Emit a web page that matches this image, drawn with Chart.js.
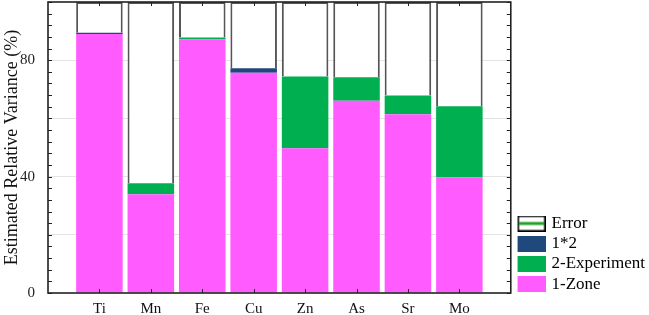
<!DOCTYPE html>
<html lang="en">
<head>
    <meta charset="UTF-8">
    <title>Estimated Relative Variance</title>
    <script src="https://cdn.jsdelivr.net/npm/chart.js"></script>
    <style>
        html, body { margin: 0; padding: 0; background: #fff; }
    </style>
</head>
<body>
    <canvas id="varianceChart" width="649" height="315"></canvas>
    <script>
        // values (percent of total variance)
        const elements = ['Ti', 'Mn', 'Fe', 'Cu', 'Zn', 'As', 'Sr', 'Mo'];
        const zone = [89.0, 33.9, 87.2, 75.7, 49.7, 66.1, 61.4, 39.8];
        const experiment = [0, 3.8, 0.6, 0, 24.7, 8.0, 6.5, 24.4];
        const interaction = [0.4, 0, 0, 1.5, 0, 0, 0, 0];
        const error = [10.6, 62.3, 12.2, 22.8, 25.6, 25.9, 32.1, 35.8];
        const yLabels = [0, 40, 80];

        // empty slot on each side, like the original axis
        const labels = ['', ...elements, ''];
        const pad = arr => [null, ...arr, null];

        const serif = 'Liberation Serif, Times New Roman, serif';

        // legend swatches
        function makeIcon(fill, border, midLine) {
            const c = document.createElement('canvas');
            c.width = 34; c.height = 16;
            const g = c.getContext('2d');
            g.fillStyle = fill;
            g.fillRect(6, 0, 28, 16);
            if (border) {
                g.strokeStyle = border; g.lineWidth = 1.5;
                g.strokeRect(6.75, 0.75, 26.5, 14.5);
            }
            if (midLine) {
                g.strokeStyle = midLine; g.lineWidth = 3;
                g.beginPath(); g.moveTo(7, 8); g.lineTo(33, 8); g.stroke();
            }
            return c;
        }
        const icons = [
            makeIcon('#FF5BFF'),
            makeIcon('#00B050'),
            makeIcon('#1F497D'),
            makeIcon('#FFFFFF', '#000000', '#1FA02A')
        ];

        // box frame with inward ticks
        const framePlugin = {
            id: 'frame',
            afterDatasetsDraw(chart) {
                const {ctx, chartArea: a, scales: {x, y}} = chart;
                ctx.save();
                ctx.strokeStyle = '#222';
                ctx.lineWidth = 1;
                ctx.beginPath();
                for (let v = 0; v <= 100; v += 4) {
                    const py = Math.round(y.getPixelForValue(v)) + 0.5;
                    ctx.moveTo(a.left, py); ctx.lineTo(a.left + 4, py);
                    ctx.moveTo(a.right, py); ctx.lineTo(a.right - 4, py);
                }
                elements.forEach((_, i) => {
                    const px = Math.round(x.getPixelForValue(i + 1)) + 0.5;
                    ctx.moveTo(px, a.bottom); ctx.lineTo(px, a.bottom - 4);
                    ctx.moveTo(px, a.top); ctx.lineTo(px, a.top + 4);
                });
                ctx.stroke();
                ctx.lineWidth = 1.6;
                ctx.strokeRect(a.left, a.top, a.right - a.left, a.bottom - a.top);
                ctx.restore();
            }
        };

        new Chart(document.getElementById('varianceChart'), {
            type: 'bar',
            data: {
                labels: labels,
                datasets: [
                    { label: '1-Zone', data: pad(zone), backgroundColor: '#FF5BFF', borderWidth: 0 },
                    { label: '2-Experiment', data: pad(experiment), backgroundColor: '#00B050', borderWidth: 0 },
                    { label: '1*2', data: pad(interaction), backgroundColor: '#1F497D', borderWidth: 0 },
                    {
                        label: 'Error', data: pad(error), backgroundColor: '#FFFFFF',
                        borderColor: '#555555', borderWidth: 2, borderSkipped: 'bottom'
                    }
                ]
            },
            options: {
                responsive: false,
                animation: false,
                datasets: { bar: { barPercentage: 0.905, categoryPercentage: 1.0 } },
                layout: { autoPadding: false, padding: { top: 2, bottom: 19, left: 0, right: -6 } },
                scales: {
                    x: {
                        stacked: true,
                        offset: false,
                        grid: { display: false },
                        border: { display: false },
                        ticks: {
                            autoSkip: false, maxRotation: 0,
                            // mirrored so the labels are not clipped to the thin axis box
                            mirror: true, padding: -25,
                            color: '#111', font: { family: serif, size: 15 }
                        },
                        afterFit: s => { s.height = 3; s.paddingLeft = 0; s.paddingRight = 0; }
                    },
                    y: {
                        stacked: true,
                        min: 0, max: 100,
                        border: { display: false },
                        grid: {
                            drawTicks: false,
                            color: c => (c.tick && c.tick.value > 0 && c.tick.value < 100) ? '#e3e3e3' : 'rgba(0,0,0,0)'
                        },
                        ticks: {
                            stepSize: 20, padding: 13,
                            color: '#222', font: { family: serif, size: 15 },
                            callback: v => yLabels.includes(v) ? v : ''
                        },
                        title: {
                            display: true,
                            text: 'Estimated Relative Variance (%)',
                            color: '#111',
                            font: { family: serif, size: 18 },
                            padding: { top: 1, bottom: 0 }
                        },
                        afterFit: s => { s.width = 48; s.paddingTop = 0; s.paddingBottom = 0; }
                    }
                },
                plugins: {
                    tooltip: { enabled: false },
                    legend: {
                        position: 'right',
                        align: 'end',
                        reverse: true,
                        labels: {
                            usePointStyle: true,
                            pointStyleWidth: 29,
                            padding: 3.25,
                            color: '#000',
                            font: { family: serif, size: 17 },
                            generateLabels: chart => Chart.defaults.plugins.legend.labels.generateLabels(chart)
                                .map(l => Object.assign(l, { pointStyle: icons[l.datasetIndex] }))
                        }
                    }
                }
            },
            plugins: [framePlugin]
        });
    </script>
</body>
</html>
